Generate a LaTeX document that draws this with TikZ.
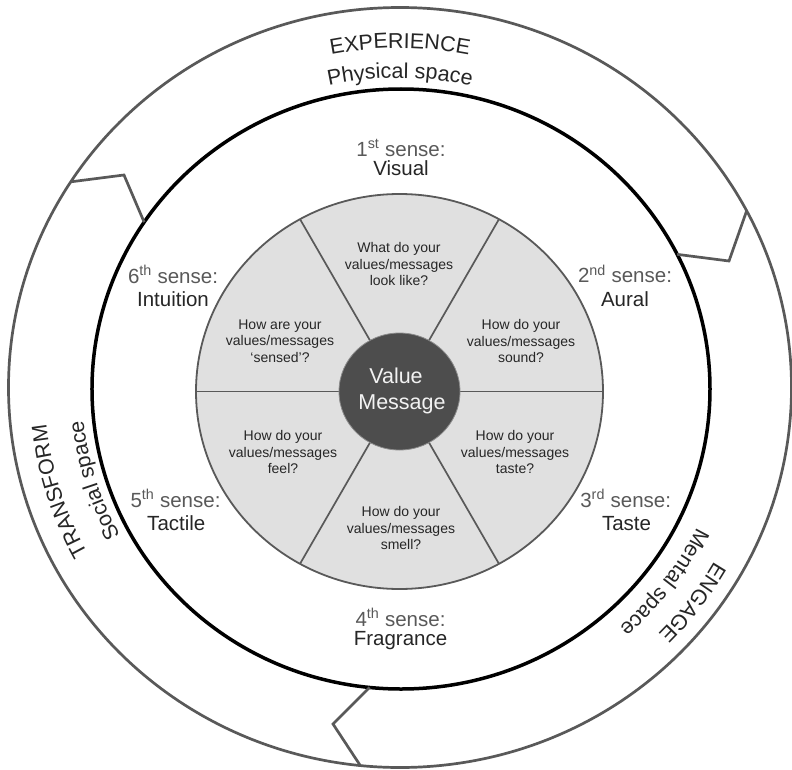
\documentclass[tikz,border=0pt]{standalone}
\usepackage{fontspec}
\setmainfont{Liberation Sans}
\usetikzlibrary{shapes.geometric,decorations.text}
\definecolor{linegray}{HTML}{595959}
\definecolor{fillgray}{HTML}{E0E0E0}
\definecolor{coregray}{HTML}{4D4D4D}
\definecolor{corerim}{HTML}{8C8C8C}
\definecolor{txtdark}{HTML}{262626}
\definecolor{txtgray}{HTML}{595959}
\definecolor{txtlight}{HTML}{F2F2F2}
\newcommand\bandfont{\fontsize{21.5}{24}\selectfont}
\begin{document}
\begin{tikzpicture}[x=1pt,y=1pt,
  ringshape/.style={ellipse, inner sep=0pt, outer sep=0pt},
  chev/.style={draw=linegray, line width=2.7pt, line join=miter},
  spoke/.style={draw=linegray, line width=1.7pt},
  sensenum/.style={anchor=base, inner sep=0pt, text=txtgray, font=\fontsize{20.5}{24}\selectfont},
  sensename/.style={anchor=base, inner sep=0pt, text=txtdark, font=\fontsize{20.5}{24}\selectfont},
  question/.style={align=center, inner sep=0pt, text=txtdark, font=\fontsize{14}{16.5}\selectfont},
  coretext/.style={anchor=base, inner sep=0pt, text=txtlight, font=\fontsize{21.5}{25}\selectfont},
  bandtext/.style={decorate, decoration={text along path, text align=center, text color=txtdark}}
]
\useasboundingbox (-400,-379) rectangle (392,390);
\fill[white] (-400,-379) rectangle (392,390);

% outer band and sense ring
\node[ringshape, draw=linegray, line width=2.7pt, minimum width=783pt, minimum height=760pt] (outer) at (0,2.5) {};
\node[ringshape, draw=black, line width=3.5pt, minimum width=618pt, minimum height=600pt] (sensering) at (1,1) {};

% chevrons of the circular arrow
\coordinate (k1) at (-276,215);
\coordinate (k2) at (329,129);
\coordinate (k3) at (-67,-334);
\draw[chev] (outer.148) -- (k1) -- (sensering.147);
\draw[chev] (outer.27) -- (k2) -- (sensering.26);
\draw[chev] (outer.264) -- (k3) -- (sensering.264);

% wheel
\node[ringshape, draw=linegray, fill=fillgray, line width=1.8pt, minimum width=407pt, minimum height=395pt] (wheel) at (-0.5,-1.5) {};
\foreach \a in {0,60,120,180,240,300}
  \draw[spoke] (wheel.center) -- (wheel.\a);
\node[ringshape, draw=corerim, fill=coregray, line width=0.8pt, minimum width=121pt, minimum height=117pt] (core) at (-0.5,-1.5) {};
\node[coretext] (value) at (-4,6.7) {Value};
\node[coretext] (message) at (2,-19.3) {Message};

% questions
\node[question] (qvisual) at (-1,126) {What do your\\values/messages\\look like?};
\node[question] (qaural) at (121,49) {How do your\\values/messages\\sound?};
\node[question] (qintuition) at (-120,49) {How are your\\values/messages\\‘sensed’?};
\node[question] (qtactile) at (-117,-62) {How do your\\values/messages\\feel?};
\node[question] (qtaste) at (115,-62) {How do your\\values/messages\\taste?};
\node[question] (qfragrance) at (1,-138) {How do your\\values/messages\\smell?};

% sense labels
\node[sensenum] (s1) at (1,234) {1\textsuperscript{st} sense:};
\node[sensename] (n1) at (1,214.3) {Visual};
\node[sensenum] (s2) at (225,107.3) {2\textsuperscript{nd} sense:};
\node[sensename] (n2) at (225,84) {Aural};
\node[sensenum] (s3) at (225.7,-117) {3\textsuperscript{rd} sense:};
\node[sensename] (n3) at (226.5,-140.7) {Taste};
\node[sensenum] (s4) at (0.5,-236) {4\textsuperscript{th} sense:};
\node[sensename] (n4) at (0.5,-255) {Fragrance};
\node[sensenum] (s5) at (-224.5,-117) {5\textsuperscript{th} sense:};
\node[sensename] (n5) at (-223.7,-140.7) {Tactile};
\node[sensenum] (s6) at (-227,107) {6\textsuperscript{th} sense:};
\node[sensename] (n6) at (-227,83.3) {Intuition};

% curved band labels
\path[bandtext, decoration={text={|\bandfont|EXPERIENCE}}]
  ([shift={(0,1.5)}]135:350.7pt and 340.5pt) arc[start angle=135, end angle=45, x radius=350.7pt, y radius=340.5pt];
\path[bandtext, decoration={text={|\bandfont|Physical space}}]
  ([shift={(0,1.5)}]135:319.8pt and 310.5pt) arc[start angle=135, end angle=45, x radius=319.8pt, y radius=310.5pt];
\path[bandtext, decoration={text={|\bandfont|TRANSFORM}}]
  ([shift={(0,1.5)}]242:355.4pt and 345pt) arc[start angle=242, end angle=152, x radius=355.4pt, y radius=345pt];
\path[bandtext, decoration={text={|\bandfont|Social space}}]
  ([shift={(0,1.5)}]242:318.3pt and 309pt) arc[start angle=242, end angle=152, x radius=318.3pt, y radius=309pt];
\path[bandtext, decoration={text={|\bandfont|ENGAGE}}]
  ([shift={(0,1.5)}]8.4:361.5pt and 351pt) arc[start angle=8.4, end angle=-81.6, x radius=361.5pt, y radius=351pt];
\path[bandtext, decoration={text={|\bandfont|Mental space}}]
  ([shift={(0,1.5)}]8.4:329.6pt and 320pt) arc[start angle=8.4, end angle=-81.6, x radius=329.6pt, y radius=320pt];
\end{tikzpicture}
\end{document}
